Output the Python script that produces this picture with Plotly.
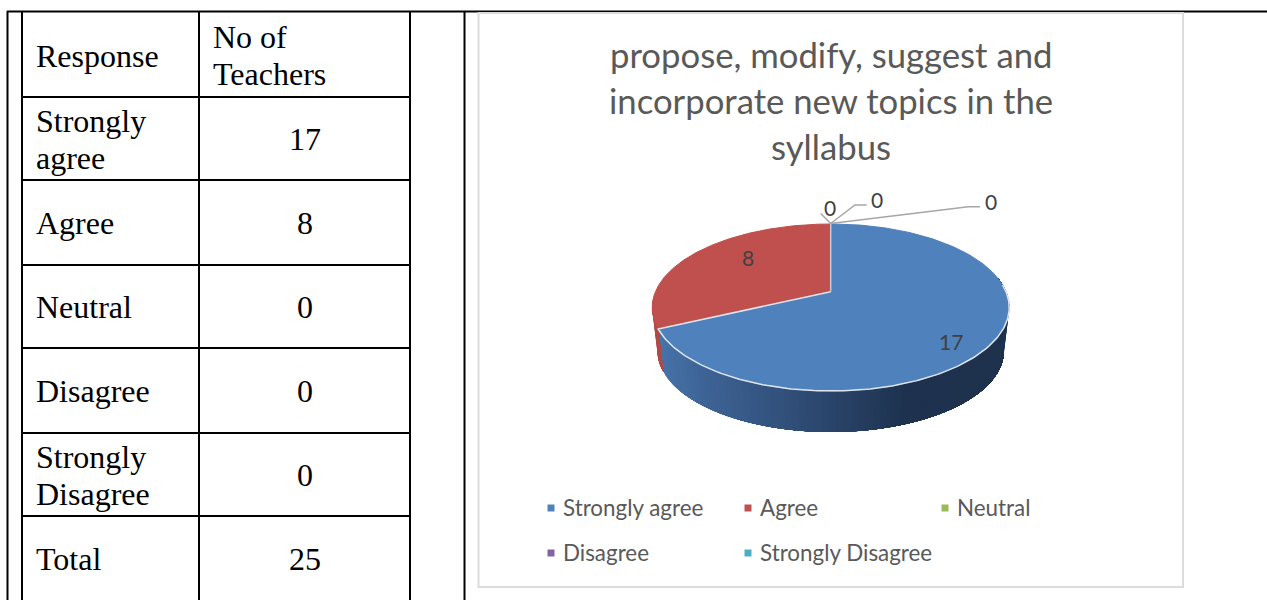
import numpy as np
import plotly.graph_objects as go

# data
responses = ["Strongly agree", "Agree", "Neutral", "Disagree", "Strongly Disagree"]
teachers = [17, 8, 0, 0, 0]
total = 25
table_header = ["Response", "No of\nTeachers"]
table_rows = ["Strongly\nagree", "Agree", "Neutral", "Disagree", "Strongly\nDisagree", "Total"]
table_values = teachers + [total]
chart_title = ["propose, modify, suggest and", "incorporate new topics in the", "syllabus"]
colors = ["#4f81bd", "#c0504d", "#9bbb59", "#8064a2", "#4bacc6"]

TEXT = "#595959"
LABEL = "#404040"
SERIF = "Liberation Serif"
SANS = "Lato"

fig = go.Figure()

# table grid + chart card
shapes = []


def line(x0, y0, x1, y1, color="black", width=2):
    shapes.append(dict(type="line", x0=x0, y0=y0, x1=x1, y1=y1, line=dict(color=color, width=width), layer="below"))


line(7, 11.5, 1267, 11.5)
for x in [7.5, 22, 199, 410, 464.5]:
    line(x, 11, x, 600)
for y in [97, 180, 265, 348, 433, 516]:
    line(22, y, 410, y)
shapes.append(dict(type="rect", x0=478.5, y0=13, x1=1183, y1=587, line=dict(color="#dcdcdc", width=2),
                   fillcolor="white", layer="below"))

annotations = []


def text(x, y, s, size, color, family, anchor="center"):
    annotations.append(dict(x=x, y=y, text=s, showarrow=False, xanchor=anchor, yanchor="middle",
                            font=dict(size=size, color=color, family=family)))


def cell(x, y, s, anchor="left"):
    # word wraps two lines in the cell
    parts = s.split("\n")
    for i, p in enumerate(parts):
        text(x, y + (i - (len(parts) - 1) / 2) * 37, p, 32, "black", SERIF, anchor)


cell(34, 56, table_header[0])
cell(211, 55, table_header[1])
row_centers = [139, 223, 307, 391, 475, 559]
for name, val, yc in zip(table_rows, table_values, row_centers):
    cell(34, yc, name)
    cell(304.5, yc, str(val), "center")

for line_txt, y in zip(chart_title, [54.5, 100.5, 146.5]):
    text(831, y, line_txt, 34.7, TEXT, SANS)

# perspective of the pie, tilted disc
CX, CY = 830.7, 291.7
K, M, P = 175.3, 80.5, 0.189
DROP, SHRINK = 44, 0.97


def project(phi, r=1.0, drop=0.0, scale=1.0):
    x = r * np.sin(phi)
    y = r * np.cos(phi)
    d = 1 + P * y
    return CX + K * scale * x / d, CY + drop - M * scale * y / d


cum = np.cumsum([0] + teachers) / total * 2 * np.pi


def shade(xm):
    # side wall goes dark towards the right
    stops_x = [655, 700, 830, 900, 1010]
    stops = [(72, 116, 170), (62, 100, 150), (42, 68, 105), (31, 51, 80), (30, 50, 78)]
    return "rgb(%d,%d,%d)" % tuple(np.interp(xm, stops_x, [s[i] for s in stops]) for i in range(3))


# side wall, front half only. painted big to small so the strips leave no seams
for i, v in enumerate(teachers):
    if v == 0:
        continue
    a0 = max(cum[i], np.radians(80))
    a1 = min(cum[i + 1], np.radians(268))
    if a1 <= a0:
        continue
    steps = np.linspace(a0, a1, max(2, int(np.degrees(a1 - a0) / 2) + 1))
    for s in steps[:0:-1]:
        arc = np.linspace(a0, s, 60)
        xt, yt = project(arc)
        xb, yb = project(arc[::-1], drop=DROP, scale=SHRINK)
        col = shade(project(s)[0]) if i == 0 else "#b04a47"
        fig.add_trace(go.Scatter(x=list(xt) + list(xb), y=list(yt) + list(yb), mode="none", fill="toself",
                                 fillcolor=col, showlegend=False, hoverinfo="skip"))

# top of the pie
for i, v in enumerate(teachers):
    if v == 0:
        continue
    phi = np.linspace(cum[i], cum[i + 1], 200)
    xs, ys = project(phi)
    fig.add_trace(go.Scatter(x=[CX] + list(xs) + [CX], y=[CY] + list(ys) + [CY], mode="lines", fill="toself",
                             fillcolor=colors[i], line=dict(color=colors[i], width=1), name=responses[i],
                             showlegend=False, hoverinfo="skip"))

# light edge on the slices
rim = np.linspace(np.radians(85), cum[1], 160)
xs, ys = project(rim)
fig.add_trace(go.Scatter(x=[CX] + list(xs)[::-1], y=[CY] + list(ys)[::-1], mode="lines",
                         line=dict(color="#dfe6ef", width=1.5), showlegend=False, hoverinfo="skip"))
xs, ys = project(np.array([0.0]))
fig.add_trace(go.Scatter(x=[CX, xs[0]], y=[CY, ys[0]], mode="lines",
                         line=dict(color="#c9c9cf", width=1.5), showlegend=False, hoverinfo="skip"))

# leader lines for the zero slices
leaders = [([830.7, 820.7], [223.5, 213.5]),
           ([830.7, 855, 866.7], [223.5, 205, 205]),
           ([830.7, 968.3, 980], [223.5, 206.7, 206.7])]
for lx, ly in leaders:
    fig.add_trace(go.Scatter(x=lx, y=ly, mode="lines", line=dict(color="#a6a6a6", width=1.5),
                             showlegend=False, hoverinfo="skip"))

label_pos = [(951, 341), (748, 257), (830, 207), (877, 199), (991, 201)]
for v, (x, y) in zip(teachers, label_pos):
    text(x, y, str(v), 21, LABEL, SANS)

# legend, two rows
legend_pos = [(551, 508), (748, 508), (945, 508), (551, 553), (748, 553)]
for name, col, (x, y) in zip(responses, colors, legend_pos):
    fig.add_trace(go.Scatter(x=[x], y=[y], mode="markers", marker=dict(symbol="square", size=7, color=col),
                             name=name, showlegend=False, hoverinfo="skip"))
    text(x + 10, y - 1, name, 22.4, TEXT, SANS, "left")

fig.update_layout(
    width=1267,
    height=600,
    margin=dict(l=0, r=0, t=0, b=0),
    paper_bgcolor="white",
    plot_bgcolor="white",
    xaxis=dict(range=[0, 1267], visible=False, fixedrange=True),
    yaxis=dict(range=[600, 0], visible=False, fixedrange=True),
    shapes=shapes,
    annotations=annotations,
    showlegend=False,
)

fig.write_html("out.html", post_script="document.body.style.margin='0';document.body.style.overflow='hidden';",
               config=dict(displayModeBar=False))
